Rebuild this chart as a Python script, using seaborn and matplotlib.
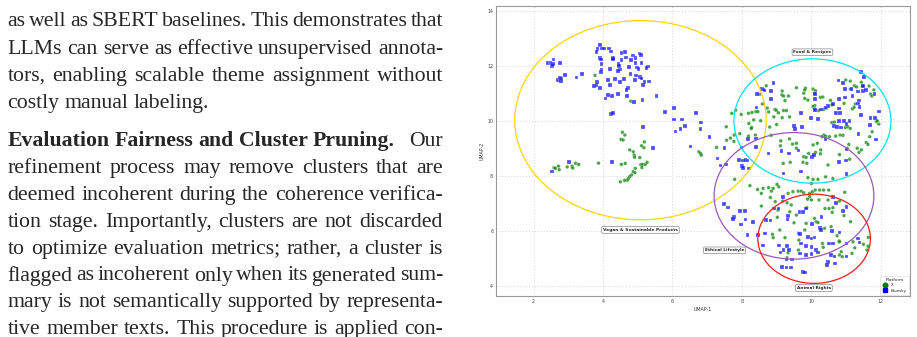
import numpy as np
import pandas as pd
import matplotlib
matplotlib.use('Agg')
import matplotlib.pyplot as plt
from matplotlib.patches import Ellipse
from matplotlib.lines import Line2D
import seaborn as sns

# ---- data (UMAP coordinates) ----
# Bluesky posts
bsky_left = [(3.92, 12.76), (3.84, 12.61), (3.97, 12.63), (4.02, 12.64), (4.18, 12.64), (4.24, 12.53),
             (3.81, 12.50), (3.92, 12.28), (3.94, 12.24), (4.29, 12.30), (4.29, 12.25), (4.53, 12.46),
             (4.64, 12.50), (4.66, 12.31), (4.53, 12.22), (4.80, 12.22), (4.87, 12.38), (4.94, 12.30),
             (5.05, 12.45), (5.10, 12.40), (5.11, 12.12), (4.98, 11.95), (5.02, 11.90), (5.29, 11.98),
             (5.25, 11.93), (4.74, 11.96), (4.45, 12.06), (4.46, 12.00), (4.94, 12.10), (4.20, 11.88),
             (4.49, 11.87), (4.43, 11.82), (3.96, 12.08), (3.96, 11.87), (3.94, 11.77), (3.83, 11.41),
             (3.81, 11.32), (3.74, 11.28), (3.91, 11.19), (4.15, 11.48), (4.35, 11.52), (4.49, 11.43),
             (4.61, 11.53), (4.79, 11.70), (4.96, 11.65), (5.06, 11.61), (5.11, 11.55), (4.93, 11.49),
             (5.20, 11.43), (5.33, 11.44), (5.15, 11.31), (4.20, 11.30), (4.72, 11.21), (4.68, 11.12),
             (4.43, 10.97), (4.26, 10.91), (4.15, 10.95), (4.07, 10.82), (4.69, 10.92), (5.14, 10.76),
             (4.89, 10.68), (5.54, 10.90),
             (2.40, 12.10), (2.49, 12.10), (2.58, 12.24), (2.54, 12.01), (2.56, 12.06), (2.76, 12.10),
             (2.70, 11.49), (2.77, 11.56), (2.80, 11.55), (2.79, 11.45), (2.91, 11.66), (3.24, 11.58),
             (3.40, 11.70),
             (4.24, 10.26), (4.29, 10.30), (5.79, 10.33), (6.05, 10.47), (6.05, 10.05), (6.28, 10.06),
             (6.36, 9.81), (6.23, 9.72), (6.09, 9.62), (5.16, 9.79), (5.44, 9.03), (6.52, 9.07),
             (6.68, 10.29), (4.26, 8.52), (3.02, 8.52), (2.54, 8.17)]
bsky_upper = [(8.91, 11.37), (8.57, 11.16), (8.62, 11.15), (8.65, 11.11), (8.84, 11.10), (8.44, 10.98),
              (8.83, 10.80), (8.42, 10.49), (9.50, 9.83), (9.53, 9.70), (6.82, 9.95), (6.81, 9.71),
              (7.07, 9.42), (8.18, 9.35), (8.40, 9.36), (7.50, 9.03), (7.99, 9.04), (8.40, 9.05),
              (7.30, 8.64), (8.77, 8.82), (9.36, 8.82), (9.63, 8.93), (9.14, 8.92), (7.38, 8.38),
              (7.55, 8.42), (7.92, 8.58), (8.03, 8.56), (8.10, 8.58), (8.16, 8.56), (8.01, 8.36),
              (8.03, 8.28), (9.20, 8.09), (8.21, 8.27),
              (11.42, 11.79), (11.51, 11.61), (11.49, 11.27), (11.49, 11.10), (10.78, 11.47),
              (10.91, 11.37), (10.96, 11.16), (11.16, 11.16), (11.34, 11.07), (11.58, 11.13),
              (11.82, 10.98), (10.11, 10.97), (10.10, 10.79), (10.79, 10.81), (10.96, 10.86),
              (11.18, 10.92), (11.37, 10.75), (11.34, 10.64), (11.39, 10.52), (10.62, 10.62),
              (10.48, 10.55), (10.41, 10.49), (10.27, 10.42), (10.11, 10.40), (10.79, 10.46),
              (9.99, 10.12), (9.71, 10.30), (10.20, 10.07), (10.70, 10.30), (10.83, 10.30),
              (11.42, 10.21), (11.94, 10.35), (11.70, 10.10), (11.84, 10.10), (10.94, 10.00),
              (10.80, 10.00), (11.10, 10.00), (11.01, 9.88), (10.65, 9.82), (9.74, 9.79),
              (10.74, 9.79), (10.86, 9.77), (11.68, 9.85), (11.36, 9.52), (11.87, 9.33),
              (10.41, 9.35), (10.02, 8.68), (10.08, 8.76), (11.01, 8.97), (10.79, 8.52),
              (11.00, 8.57), (11.01, 8.07), (9.71, 8.16)]
bsky_lower = [(7.49, 6.98), (7.60, 6.86), (7.94, 6.73), (8.08, 6.73), (7.77, 6.52), (7.75, 6.44),
              (8.10, 6.42), (7.97, 6.24), (8.32, 6.33), (8.70, 6.40), (8.82, 6.38), (9.18, 7.25),
              (8.92, 6.82), (9.05, 6.82), (9.33, 6.55), (9.31, 6.42), (8.16, 5.85), (8.46, 5.85),
              (8.66, 5.91), (8.61, 5.48), (9.07, 5.48), (9.30, 5.45), (9.20, 5.31), (9.36, 5.31),
              (9.11, 5.22), (9.44, 4.97), (9.28, 4.97), (9.16, 4.70), (9.28, 4.67), (9.42, 4.67),
              (9.85, 6.82), (9.66, 6.70), (9.76, 6.70), (10.62, 7.25), (10.70, 7.03), (11.01, 6.88),
              (10.91, 6.73), (10.29, 6.52), (10.02, 6.25), (10.24, 6.12), (10.27, 6.04), (10.60, 6.01),
              (10.81, 5.95), (9.68, 5.89), (9.90, 5.79), (10.00, 5.73), (10.09, 5.77), (9.71, 5.55),
              (9.85, 5.45), (10.00, 5.41), (10.50, 5.55), (10.62, 5.55), (11.01, 5.55), (11.34, 5.73),
              (11.39, 5.59), (9.68, 5.19), (9.85, 5.13), (10.57, 5.13), (10.67, 5.07), (10.48, 4.88),
              (10.45, 4.76), (10.69, 4.82), (11.01, 5.07), (9.76, 4.52), (9.81, 4.50), (10.14, 5.31),
              (10.19, 5.22), (10.00, 5.16)]

# X posts
x_left = [(3.77, 11.66), (4.80, 10.72), (4.56, 9.59), (4.63, 9.49), (4.52, 9.33), (4.58, 9.31),
          (5.19, 9.24), (4.77, 8.95), (4.87, 8.88), (5.11, 9.10), (5.18, 9.03), (4.90, 8.76),
          (4.91, 8.68), (5.06, 8.67), (5.09, 8.41), (5.14, 8.42), (5.22, 8.42), (5.27, 8.50),
          (5.12, 8.31), (4.53, 8.42), (4.64, 8.46), (3.87, 8.47), (2.59, 8.30), (2.63, 8.28),
          (2.72, 8.36), (2.74, 8.23), (2.97, 8.33), (3.11, 8.36), (3.13, 8.29), (3.21, 8.46),
          (3.30, 8.42), (4.93, 8.28), (4.87, 8.16), (4.92, 8.12), (4.82, 8.04), (4.77, 7.98),
          (4.73, 7.91), (4.70, 7.85), (4.62, 7.84), (4.50, 7.79), (6.76, 8.88)]
x_upper = [(8.70, 11.28), (9.57, 11.21), (9.16, 11.09), (9.15, 10.95), (9.20, 10.91), (9.34, 10.91),
           (9.24, 10.74), (8.51, 10.97), (8.59, 10.62), (8.73, 10.47), (8.95, 10.42), (8.99, 10.39),
           (9.05, 10.30), (9.20, 10.38), (9.28, 10.38), (9.37, 10.15), (9.16, 10.12), (8.92, 10.15),
           (8.77, 10.33), (7.82, 10.39), (7.71, 10.28), (7.98, 10.24), (8.19, 10.28), (8.29, 10.31),
           (8.40, 10.34), (8.46, 10.34), (8.20, 9.91), (8.34, 10.04), (8.54, 10.01), (9.00, 9.87),
           (8.80, 9.78), (8.28, 9.77), (8.27, 9.73), (7.55, 9.79), (7.94, 9.54), (7.78, 9.49),
           (7.67, 9.38), (7.56, 9.30), (7.77, 9.26), (8.39, 9.49), (8.19, 9.45), (8.84, 9.48),
           (9.12, 9.28), (9.46, 9.16), (9.57, 9.19), (9.37, 9.35), (9.57, 9.01), (9.11, 9.10),
           (7.27, 9.04), (6.81, 8.82), (6.83, 8.76), (9.19, 8.46), (9.39, 8.50),
           (10.99, 11.49), (11.12, 11.45), (11.12, 11.16), (11.24, 11.28), (11.30, 11.24),
           (11.44, 11.41), (11.47, 11.27), (11.66, 11.27), (11.80, 11.13), (11.71, 10.98),
           (11.74, 10.91), (9.83, 11.19), (10.05, 11.16), (10.12, 11.10), (10.09, 11.01),
           (10.26, 10.86), (10.33, 10.87), (10.55, 10.75), (10.59, 10.58), (10.43, 10.46),
           (10.35, 10.42), (10.10, 10.56), (10.05, 10.53), (10.09, 10.44), (10.21, 10.38),
           (9.81, 10.82), (9.90, 10.76), (9.78, 11.01), (9.81, 11.13), (10.59, 9.94),
           (10.66, 9.96), (10.98, 9.76), (11.05, 9.79), (11.12, 9.73), (11.18, 10.44),
           (11.23, 10.50), (11.27, 10.62), (10.94, 10.64), (10.83, 9.49), (10.70, 9.45),
           (10.91, 9.48), (10.36, 9.49), (10.31, 9.43), (10.41, 9.45), (10.52, 9.43),
           (11.68, 9.43), (11.75, 9.61), (11.87, 9.98), (11.94, 9.89), (11.90, 10.01),
           (11.58, 9.22), (11.63, 9.15), (11.08, 9.15), (11.32, 9.01), (11.03, 9.01),
           (10.05, 9.13), (10.17, 9.19), (10.12, 8.86), (10.26, 8.81), (10.27, 8.95),
           (9.92, 8.82), (9.78, 8.70), (9.85, 8.68), (9.87, 8.46), (9.76, 8.50),
           (10.48, 8.40), (10.81, 8.78), (11.37, 8.86), (11.44, 8.95), (11.10, 8.61)]
x_lower = [(7.79, 7.88), (8.23, 7.65), (8.45, 7.51), (8.61, 7.55), (8.77, 7.58), (8.90, 7.55),
           (8.85, 7.45), (9.06, 7.61), (9.01, 7.70), (8.56, 7.37), (8.82, 7.22), (9.33, 7.37),
           (9.47, 7.43), (9.62, 7.45), (8.96, 7.07), (8.56, 6.91), (9.18, 7.09), (9.30, 7.03),
           (9.42, 6.95), (9.04, 6.76), (9.38, 6.70), (9.02, 6.50), (9.57, 6.58), (9.50, 6.30),
           (9.09, 6.04), (8.88, 5.88), (8.90, 5.76), (9.24, 5.76), (9.63, 5.92), (9.64, 5.67),
           (9.63, 5.31), (9.33, 5.21), (9.30, 5.03),
           (9.90, 7.94), (10.05, 7.88), (10.19, 7.88), (10.41, 7.97), (10.62, 7.91), (10.00, 7.73),
           (9.71, 7.45), (9.78, 7.39), (9.95, 7.37), (10.03, 7.43), (10.11, 7.49), (10.24, 7.49),
           (10.35, 7.49), (10.50, 7.49), (9.95, 7.25), (10.00, 7.13), (9.89, 7.16), (10.96, 7.41),
           (10.22, 7.13), (10.48, 7.13), (10.81, 7.09), (10.39, 6.82), (10.51, 6.82), (10.62, 6.85),
           (9.87, 6.85), (10.09, 6.46), (10.14, 6.34), (10.19, 6.31), (9.85, 6.28), (10.57, 6.16),
           (10.38, 6.10), (9.81, 6.04), (10.60, 6.68), (11.13, 6.34), (10.94, 6.56), (10.74, 5.83),
           (10.80, 5.64), (10.32, 5.55), (10.34, 5.41), (10.81, 5.61), (11.20, 5.61), (11.25, 5.39),
           (10.86, 5.25), (10.81, 5.13), (10.89, 5.07), (11.17, 5.19), (11.50, 5.52), (11.63, 5.45),
           (11.60, 5.31), (11.64, 5.77)]

platforms = ['X', 'Bluesky']
platform_colors = ['green', 'blue']
platform_markers = ['o', 's']

# cluster circles: name, centre x, centre y, radius, colour, label x, label y
cluster_names = ['Vegan & Sustainable Products', 'Food & Recipes', 'Ethical Lifestyle', 'Animal Rights']
cluster_cx = [5.08, 10.03, 9.50, 10.08]
cluster_cy = [10.03, 10.00, 7.28, 5.72]
cluster_r = [3.62, 2.26, 2.30, 1.62]
cluster_colors = ['#FFD700', '#00E5EE', '#9B59B6', '#FF1A1A']
label_x = [5.08, 10.03, 7.50, 10.07]
label_y = [6.04, 12.50, 5.30, 3.93]

# paper text to the left of the figure
para1 = ["as well as SBERT baselines. This demonstrates that",
         "LLMs can serve as effective unsupervised annota-",
         "tors, enabling scalable theme assignment without",
         "costly manual labeling."]
para2_head = "Evaluation Fairness and Cluster Pruning."
para2 = ["Our",
         "refinement process may remove clusters that are",
         "deemed incoherent during the coherence verifica-",
         "tion stage. Importantly, clusters are not discarded",
         "to optimize evaluation metrics; rather, a cluster is",
         "flagged as incoherent only when its generated sum-",
         "mary is not semantically supported by representa-",
         "tive member texts. This procedure is applied con-"]

rows = []
for p, pts in [('X', x_left + x_upper + x_lower), ('Bluesky', bsky_left + bsky_upper + bsky_lower)]:
    for px, py in pts:
        rows.append({'UMAP-1': px, 'UMAP-2': py, 'Platform': p})
df = pd.DataFrame(rows)

sns.set_style('whitegrid', {'grid.linestyle': ':', 'grid.color': '#dcdcdc',
                            'axes.edgecolor': '#9a9a9a'})

W, H = 917, 337
fig = plt.figure(figsize=(W / 100, H / 100), dpi=100)
ax = fig.add_axes([496 / W, 1 - 296 / H, 414 / W, 290 / H])

sns.scatterplot(data=df, x='UMAP-1', y='UMAP-2', hue='Platform', style='Platform',
                hue_order=platforms, style_order=platforms,
                palette=dict(zip(platforms, platform_colors)),
                markers=dict(zip(platforms, platform_markers)),
                s=7, alpha=0.7, edgecolor='white', linewidth=0.25, legend=False, ax=ax)

for name, cx, cy, r, c, lx, ly in zip(cluster_names, cluster_cx, cluster_cy, cluster_r,
                                      cluster_colors, label_x, label_y):
    ax.add_patch(Ellipse((cx, cy), 2 * r, 2 * r, fill=False, edgecolor=c, linewidth=0.9))
    ax.text(lx, ly, name, fontsize=3.2, fontweight='bold', ha='center', va='center',
            bbox=dict(boxstyle='round,pad=0.3', facecolor='white', edgecolor='#888888', linewidth=0.5))

ax.set_xlim(0.92, 12.84)
ax.set_ylim(3.64, 14.18)
ax.set_xticks([2, 4, 6, 8, 10, 12])
ax.set_yticks([4, 6, 8, 10, 12, 14])
ax.tick_params(labelsize=3.4, length=0, pad=2, colors='#444444')
ax.set_xlabel('UMAP-1', fontsize=3.4, labelpad=2, color='#333333')
ax.set_ylabel('UMAP-2', fontsize=3.4, labelpad=2, color='#333333')
for sp in ax.spines.values():
    sp.set_linewidth(0.8)

handles = [Line2D([], [], linestyle='', marker=m, color=c, markersize=3.3, label=p)
           for p, c, m in zip(platforms, platform_colors, platform_markers)]
leg = ax.legend(handles=handles, title='Platform', loc='lower right', fontsize=3,
                title_fontsize=3.2, frameon=True, borderaxespad=0.3, borderpad=0.5,
                handletextpad=0.8, labelspacing=0.35, handlelength=1.2)
leg.get_frame().set_linewidth(0.4)

# ---- justified text column ----
renderer = fig.canvas.get_renderer()
FS = 15.7
X0, X1 = 7.5, 443.0


def put_words(words, y, weights, justify=True, x_start=X0, gap=5.0):
    texts = [fig.text(0, 1 - y / H, w, fontsize=FS, family='Liberation Serif',
                      fontweight=wt, va='baseline') for w, wt in zip(words, weights)]
    widths = [t.get_window_extent(renderer).width for t in texts]
    if justify and len(words) > 1:
        gap = (X1 - x_start - sum(widths)) / (len(words) - 1)
    x = x_start
    for t, w in zip(texts, widths):
        t.set_x(x / W)
        x += w + gap
    return x


step = 27.2
y = 26.5
for i, line in enumerate(para1):
    words = line.split()
    put_words(words, y, ['normal'] * len(words), justify=(i < len(para1) - 1))
    y += step

y = 146.0
head = para2_head.split()
put_words(head, y, ['bold'] * len(head), justify=False)
fig.text(X1 / W, 1 - y / H, para2[0], fontsize=FS, family='Liberation Serif',
         ha='right', va='baseline')
for line in para2[1:]:
    y += 26.9
    words = line.split()
    put_words(words, y, ['normal'] * len(words))

fig.savefig('out.png', dpi=100)
